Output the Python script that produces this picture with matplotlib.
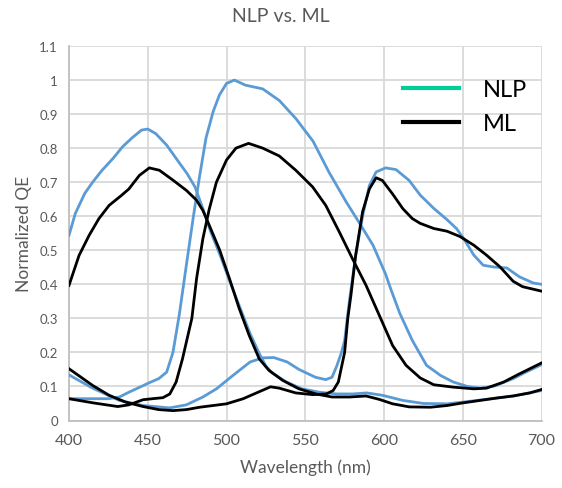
import matplotlib
matplotlib.use("Agg")
import matplotlib.pyplot as plt
from matplotlib.lines import Line2D

plt.rcParams['font.family'] = ['Lato', 'DejaVu Sans']

# ---- data ----
title = "NLP vs. ML"
x_label = "Wavelength (nm)"
y_label = "Normalized QE"
x_ticks = [400, 450, 500, 550, 600, 650, 700]
y_ticks = [0, 0.1, 0.2, 0.3, 0.4, 0.5, 0.6, 0.7, 0.8, 0.9, 1.0, 1.1]
y_tick_labels = ["0", "0.1", "0.2", "0.3", "0.4", "0.5", "0.6", "0.7", "0.8", "0.9", "1", "1.1"]
legend_labels = ["NLP", "ML"]

# NLP (blue lines)
nlp_b_x = [400, 404, 410, 415, 421, 428, 434, 440, 446, 450, 455, 462, 468, 475, 480, 485, 490, 496, 502,
           508, 515, 521, 525, 529, 538, 548, 559, 570, 580, 589, 599, 612, 625, 640, 650, 661, 682, 700]
nlp_b_y = [0.544, 0.608, 0.667, 0.700, 0.735, 0.770, 0.804, 0.830, 0.853, 0.856, 0.843, 0.809, 0.770,
           0.725, 0.686, 0.622, 0.554, 0.485, 0.410, 0.338, 0.255, 0.195, 0.160, 0.140, 0.113, 0.093,
           0.083, 0.078, 0.078, 0.081, 0.074, 0.059, 0.050, 0.049, 0.054, 0.060, 0.072, 0.088]

nlp_g_x = [400, 411, 425, 432, 438, 445, 451, 457, 462, 466, 470, 474.5, 479, 483, 487, 491.5, 495.5,
           500, 505, 512, 523, 533.5, 544, 555, 565, 576, 584, 593, 601, 604, 610, 618, 627, 636, 644,
           653, 661, 670, 682, 690, 700]
nlp_g_y = [0.064, 0.064, 0.064, 0.069, 0.083, 0.098, 0.111, 0.123, 0.142, 0.200, 0.310, 0.456, 0.600,
           0.720, 0.830, 0.907, 0.956, 0.990, 1.000, 0.985, 0.974, 0.940, 0.887, 0.820, 0.730, 0.642,
           0.583, 0.515, 0.430, 0.390, 0.315, 0.235, 0.162, 0.132, 0.113, 0.100, 0.095, 0.101, 0.123,
           0.142, 0.164]

nlp_r_x = [400, 415, 432, 447, 464, 474.5, 485, 493.6, 504, 515, 523, 530, 538.5, 546, 556.5, 563, 567,
           570, 573, 575, 578, 582, 586.4, 590.7, 595, 601, 607.6, 616, 623, 631.6, 640, 646, 650.5,
           657, 663, 669.5, 678, 686, 694.7, 700]
nlp_r_y = [0.134, 0.095, 0.059, 0.044, 0.037, 0.046, 0.069, 0.093, 0.132, 0.172, 0.184, 0.185, 0.172,
           0.150, 0.127, 0.120, 0.127, 0.160, 0.200, 0.235, 0.350, 0.485, 0.600, 0.690, 0.730, 0.742,
           0.737, 0.705, 0.662, 0.623, 0.590, 0.564, 0.535, 0.486, 0.456, 0.451, 0.448, 0.422, 0.404,
           0.400]

# ML (black lines)
ml_b_x = [400, 406.4, 412.8, 419, 425.5, 433, 438, 444.7, 451, 457.4, 466, 474.5, 481, 485, 489, 495.7,
          502, 508, 514.4, 520.8, 527, 535.6, 546, 556.8, 567, 578, 588.6, 597, 605.5, 616, 629.5, 640,
          650.5, 661, 671.6, 682, 692.6, 700]
ml_b_y = [0.397, 0.485, 0.544, 0.593, 0.632, 0.660, 0.680, 0.720, 0.742, 0.735, 0.706, 0.676, 0.647,
          0.617, 0.574, 0.500, 0.415, 0.330, 0.250, 0.181, 0.147, 0.118, 0.093, 0.078, 0.069, 0.069,
          0.072, 0.062, 0.049, 0.040, 0.039, 0.044, 0.052, 0.059, 0.066, 0.072, 0.081, 0.091]

ml_g_x = [400, 415, 431, 438, 447, 453, 459.6, 464, 468, 472, 475.5, 478, 481, 485, 489, 493.6, 500, 506,
          514, 523, 533.5, 544, 554.7, 563, 571.6, 580, 588.6, 597, 605.5, 614, 623, 631.6, 644, 657,
          665, 676, 686, 700]
ml_g_y = [0.064, 0.052, 0.041, 0.046, 0.061, 0.064, 0.067, 0.078, 0.113, 0.180, 0.250, 0.300, 0.417,
          0.534, 0.620, 0.700, 0.765, 0.800, 0.814, 0.800, 0.777, 0.735, 0.686, 0.632, 0.554, 0.475,
          0.397, 0.309, 0.220, 0.162, 0.125, 0.105, 0.098, 0.093, 0.095, 0.113, 0.137, 0.169]

ml_r_x = [400, 415, 425.5, 436, 447, 457, 466, 474.5, 483, 491.5, 500, 510.6, 521, 528, 533.5, 544,
          554.7, 563.4, 567.7, 571, 575, 577, 579, 582, 586.4, 590.7, 595, 599, 605.5, 612, 618, 623,
          631.6, 640, 648.4, 657, 665, 673.7, 682, 688, 700]
ml_r_y = [0.152, 0.103, 0.074, 0.054, 0.041, 0.032, 0.029, 0.032, 0.039, 0.044, 0.049, 0.064, 0.085,
          0.099, 0.095, 0.081, 0.076, 0.078, 0.088, 0.113, 0.200, 0.300, 0.368, 0.485, 0.613, 0.680,
          0.713, 0.705, 0.665, 0.622, 0.593, 0.579, 0.564, 0.556, 0.540, 0.515, 0.486, 0.451, 0.409,
          0.393, 0.380]

# ---- styling ----
nlp_color = "#5B9BD5"
nlp_legend_color = "#00CC99"
ml_color = "#000000"
text_color = "#595959"
grid_color = "#D9D9D9"
lw = 2.0

fig = plt.figure(figsize=(5.62, 4.89), dpi=100)
ax = fig.add_axes([69 / 562, 1 - 421.5 / 489, (541.5 - 69) / 562, (421.5 - 47) / 489])

for xs, ys in [(nlp_b_x, nlp_b_y), (nlp_g_x, nlp_g_y), (nlp_r_x, nlp_r_y)]:
    ax.plot(xs, ys, color=nlp_color, lw=lw, solid_joinstyle='round', zorder=3)
for xs, ys in [(ml_b_x, ml_b_y), (ml_g_x, ml_g_y), (ml_r_x, ml_r_y)]:
    ax.plot(xs, ys, color=ml_color, lw=lw, solid_joinstyle='round', zorder=3)

ax.set_xlim(400, 700)
ax.set_ylim(0, 1.1)
ax.set_xticks(x_ticks)
ax.set_yticks(y_ticks)
ax.set_yticklabels(y_tick_labels)
ax.tick_params(axis='x', length=0, pad=9, labelsize=11.5, labelcolor=text_color)
ax.tick_params(axis='y', length=0, pad=8, labelsize=9.5, labelcolor=text_color)
ax.grid(True, color=grid_color, lw=1.3, zorder=0)
ax.set_axisbelow(True)
for side in ['top', 'right']:
    ax.spines[side].set_visible(False)
for side in ['left', 'bottom']:
    ax.spines[side].set_color('#BFBFBF')
    ax.spines[side].set_linewidth(1.3)

ax.set_xlabel(x_label, fontsize=12.5, color=text_color, labelpad=8)
ax.set_ylabel(y_label, fontsize=12.5, color=text_color, labelpad=5)
fig.text(0.5, 1 - 16 / 489, title, ha='center', va='center', fontsize=14, color=text_color)

handles = [Line2D([], [], color=nlp_legend_color, lw=3),
           Line2D([], [], color=ml_color, lw=3)]
fig.legend(handles, legend_labels, loc='upper left', bbox_to_anchor=(403 / 562, 1 - 80 / 489),
           frameon=False, fontsize=17, handlelength=2.37, handletextpad=1.0, labelspacing=0.55,
           borderpad=0, borderaxespad=0)

fig.savefig("out.png", dpi=100)
